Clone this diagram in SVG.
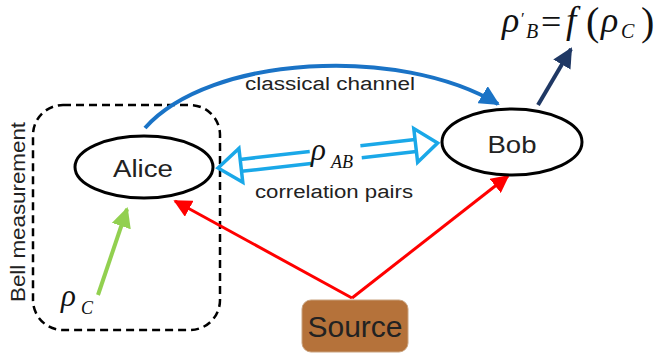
<svg xmlns="http://www.w3.org/2000/svg" width="661" height="356" viewBox="0 0 661 356">
<style>
.lbl{font-family:"Liberation Sans",Arial,sans-serif;fill:#222;}
.math{font-family:"Liberation Serif","Times New Roman",serif;font-style:italic;fill:#111;}
.up{font-style:normal;}
.node{fill:#fff;stroke:#000;stroke-width:3;}
</style>
<defs>
<marker id="hBlue" viewBox="0 0 10 10" refX="9" refY="5" markerWidth="5" markerHeight="5" orient="auto" markerUnits="strokeWidth"><path d="M0,0 L10,5 L0,10 Z" fill="#1a73c6"/></marker>
<marker id="hRed" viewBox="0 0 10 10" refX="9" refY="5" markerWidth="6" markerHeight="6" orient="auto" markerUnits="strokeWidth"><path d="M0,0 L10,5 L0,10 Z" fill="#ff0000"/></marker>
<marker id="hGreen" viewBox="0 0 10 10" refX="9" refY="5" markerWidth="5" markerHeight="5" orient="auto" markerUnits="strokeWidth"><path d="M0,0 L10,5 L0,10 Z" fill="#92d050"/></marker>
<marker id="hNavy" viewBox="0 0 10 10" refX="9" refY="5" markerWidth="5" markerHeight="5" orient="auto" markerUnits="strokeWidth"><path d="M0,0 L10,5 L0,10 Z" fill="#1f3864"/></marker>
</defs>

<g id="bell-box">
<rect x="33" y="105" width="187" height="225" rx="30" ry="30" fill="none" stroke="#000" stroke-width="2.5" stroke-dasharray="8,5"/>
<text class="lbl" font-size="20" textLength="180" lengthAdjust="spacingAndGlyphs" transform="translate(25,212) rotate(-90)" text-anchor="middle">Bell measurement</text>
</g>

<g id="connectors">
<path d="M145,128 C210,55 400,45 498,104" fill="none" stroke="#1a73c6" stroke-width="4" marker-end="url(#hBlue)"/>
<path d="M352,298 L175,201" fill="none" stroke="#ff0000" stroke-width="3" marker-end="url(#hRed)"/>
<path d="M352,298 L508,176" fill="none" stroke="#ff0000" stroke-width="3" marker-end="url(#hRed)"/>
<path d="M98,295 L127,209" fill="none" stroke="#92d050" stroke-width="4" marker-end="url(#hGreen)"/>
<path d="M538,105 L571,49" fill="none" stroke="#1f3864" stroke-width="4" marker-end="url(#hNavy)"/>
<g id="correlation" fill="none" stroke="#1aa8e8" stroke-width="3.5">
<g transform="translate(218,168) rotate(-6.5)">
<path d="M0,0 L23,-17 L23,17 Z"/>
<line x1="23" y1="-6" x2="93" y2="-6"/>
<line x1="23" y1="6" x2="93" y2="6"/>
<line x1="144" y1="-6" x2="199" y2="-6"/>
<line x1="144" y1="6" x2="199" y2="6"/>
<path d="M221,0 L199,-17 L199,17 Z"/>
</g>
</g>
</g>

<text class="lbl" font-size="18" x="330" y="90" text-anchor="middle" textLength="170" lengthAdjust="spacingAndGlyphs">classical channel</text>
<text class="lbl" font-size="18" x="334" y="198" text-anchor="middle" textLength="158" lengthAdjust="spacingAndGlyphs">correlation pairs</text>
<text id="rhoAB" class="math" x="311" y="160" font-size="31">ρ<tspan x="331" y="168" font-size="18">AB</tspan></text>

<g id="alice">
<ellipse class="node" cx="144" cy="167" rx="69" ry="31"/>
<text class="lbl" font-size="23.5" x="143" y="177" text-anchor="middle" textLength="60" lengthAdjust="spacingAndGlyphs">Alice</text>
</g>

<g id="bob">
<ellipse class="node" cx="512" cy="142" rx="70" ry="33"/>
<text class="lbl" font-size="24" x="512" y="153" text-anchor="middle" textLength="49" lengthAdjust="spacingAndGlyphs">Bob</text>
</g>

<g id="source">
<rect x="302" y="300" width="106" height="52" rx="9" ry="9" fill="#b5723a" stroke="#c9a27e" stroke-width="1"/>
<text class="lbl" font-size="30" x="355" y="337" text-anchor="middle" fill="#000">Source</text>
</g>

<text id="rhoC" class="math" x="61" y="306" font-size="31">ρ<tspan x="81" y="314" font-size="18">C</tspan></text>

<text id="formula" class="math" font-size="36"><tspan x="502" y="32">ρ</tspan><tspan x="521" y="24" font-size="17" class="up">′</tspan><tspan x="526" y="38" font-size="20">B</tspan><tspan x="541" y="34" class="up">=</tspan><tspan x="566" y="33" font-size="37">f</tspan><tspan x="586" y="35" font-size="40" class="up">(</tspan><tspan x="601" y="32">ρ</tspan><tspan x="621" y="38" font-size="20">C</tspan><tspan x="641" y="35" font-size="40" class="up">)</tspan></text>
</svg>
